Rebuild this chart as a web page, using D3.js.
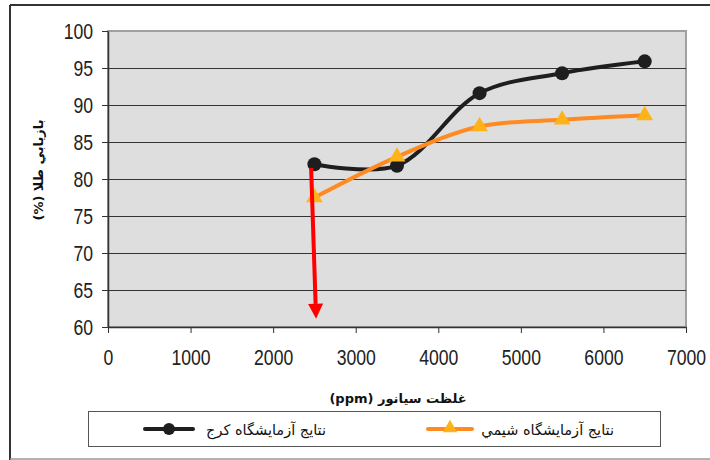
<!DOCTYPE html>
<html>
<head>
<meta charset="utf-8">
<script src="https://cdn.jsdelivr.net/npm/d3@7"></script>
<style>
  html, body { margin: 0; padding: 0; background: #fff; }
  svg { display: block; }
</style>
</head>
<body>
<svg id="chart" width="710" height="460"></svg>
<script>
// Cyanide concentration (ppm) at which gold recovery was measured
const concentrations = [2500, 3500, 4500, 5500, 6500];
// Gold recovery (%) – Karaj laboratory results
const karajRecovery = [82.0, 81.8, 91.6, 94.3, 95.9];
// Gold recovery (%) – Chemistry laboratory results
const chemRecovery = [77.5, 83.0, 87.1, 88.0, 88.6];
// Series names shown in the legend
const seriesNames = ["نتایج آزمایشگاه کرج", "نتایج آزمایشگاه شیمي"];
// Axis ticks
const xTicks = [0, 1000, 2000, 3000, 4000, 5000, 6000, 7000];
const yTicks = [60, 65, 70, 75, 80, 85, 90, 95, 100];
// Highlight arrow from the start of the curves down to the axis: [x, y] in data units
const arrowStart = [2460, 81.5];
const arrowEnd = [2520, 61.1];

const svg = d3.select("#chart");
const plot = { left: 108, right: 686, top: 31, bottom: 327 };
const numFont = "'Liberation Sans', Arial, sans-serif";
const faFont = "'DejaVu Sans', 'Noto Sans', sans-serif";
const narrow = 0.8; // horizontal squeeze for the narrow numeric labels

const x = d3.scaleLinear().domain([0, 7000]).range([plot.left, plot.right]);
const y = d3.scaleLinear().domain([60, 100]).range([plot.bottom, plot.top]);

// Outer chart frame
svg.append("line").attr("x1", 10).attr("x2", 710).attr("y1", 5).attr("y2", 5)
  .attr("stroke", "#333").attr("stroke-width", 2);
svg.append("line").attr("x1", 10).attr("x2", 10).attr("y1", 5).attr("y2", 460)
  .attr("stroke", "#333").attr("stroke-width", 2);
svg.append("line").attr("x1", 10).attr("x2", 710).attr("y1", 459).attr("y2", 459)
  .attr("stroke", "#999").attr("stroke-width", 1.5);

// Plot area background and border
svg.append("rect")
  .attr("x", plot.left).attr("y", plot.top)
  .attr("width", plot.right - plot.left).attr("height", plot.bottom - plot.top)
  .attr("fill", "#dedede").attr("stroke", "#a0a0a0").attr("stroke-width", 2);

// Horizontal gridlines
svg.append("g").selectAll("line")
  .data(yTicks.filter(d => d > 60 && d < 100))
  .join("line")
  .attr("x1", plot.left).attr("x2", plot.right)
  .attr("y1", d => Math.round(y(d)) + 0.5).attr("y2", d => Math.round(y(d)) + 0.5)
  .attr("stroke", "#333").attr("stroke-width", 1);

// Y axis
const yAxis = svg.append("g")
  .attr("transform", `translate(${plot.left},0)`)
  .call(d3.axisLeft(y).tickValues(yTicks).tickSize(6).tickPadding(9).tickSizeOuter(0));
yAxis.select(".domain").attr("stroke", "#333").attr("stroke-width", 1.5);
yAxis.selectAll(".tick line").attr("stroke", "#333");
yAxis.selectAll(".tick text")
  .attr("font-family", numFont).attr("font-size", 22).attr("fill", "#222")
  .attr("x", -15 / narrow)
  .attr("transform", `scale(${narrow},1)`);

// X axis
const xAxis = svg.append("g")
  .attr("transform", `translate(0,${plot.bottom})`)
  .call(d3.axisBottom(x).tickValues(xTicks).tickFormat(d3.format("d")).tickSize(6).tickPadding(16).tickSizeOuter(0));
xAxis.select(".domain").attr("stroke", "#333").attr("stroke-width", 1.5);
xAxis.selectAll(".tick line").attr("stroke", "#333");
xAxis.selectAll(".tick text")
  .attr("font-family", numFont).attr("font-size", 22).attr("fill", "#222")
  .attr("transform", `scale(${narrow},1)`);

// Axis titles
svg.append("text")
  .attr("x", 398).attr("y", 403)
  .attr("text-anchor", "middle").attr("direction", "rtl")
  .attr("font-family", faFont).attr("font-weight", "bold").attr("font-size", 13).attr("fill", "#111")
  .text("غلظت سیانور (ppm)");
svg.append("text")
  .attr("transform", "translate(43,170) rotate(-90)")
  .attr("text-anchor", "middle").attr("direction", "rtl")
  .attr("font-family", faFont).attr("font-weight", "bold").attr("font-size", 13).attr("fill", "#111")
  .text("بازيابي طلا (%)");

// Series lines
const line = d3.line().curve(d3.curveCatmullRom.alpha(0.5))
  .x(d => x(d[0])).y(d => y(d[1]));
const karaj = concentrations.map((c, i) => [c, karajRecovery[i]]);
const chem = concentrations.map((c, i) => [c, chemRecovery[i]]);

svg.append("path").datum(karaj).attr("d", line)
  .attr("fill", "none").attr("stroke", "#1e1e1e").attr("stroke-width", 4).attr("stroke-linejoin", "round");
svg.append("g").selectAll("circle").data(karaj).join("circle")
  .attr("cx", d => x(d[0])).attr("cy", d => y(d[1])).attr("r", 7).attr("fill", "#1e1e1e");

svg.append("path").datum(chem).attr("d", line)
  .attr("fill", "none").attr("stroke", "#ff8a22").attr("stroke-width", 4).attr("stroke-linejoin", "round");
const tri = d3.symbol().type(d3.symbolTriangle).size(120);
svg.append("g").selectAll("path").data(chem).join("path")
  .attr("d", tri)
  .attr("transform", d => `translate(${x(d[0])},${y(d[1])})`)
  .attr("fill", "#ffb319");

// Red arrow
const ax0 = x(arrowStart[0]), ay0 = y(arrowStart[1]);
const ax1 = x(arrowEnd[0]), ay1 = y(arrowEnd[1]);
const ang = Math.atan2(ay1 - ay0, ax1 - ax0);
const headLen = 15, headHalf = 7.5;
const bx = ax1 - headLen * Math.cos(ang), by = ay1 - headLen * Math.sin(ang);
svg.append("line")
  .attr("x1", ax0).attr("y1", ay0).attr("x2", bx).attr("y2", by)
  .attr("stroke", "#ff0000").attr("stroke-width", 4);
svg.append("path")
  .attr("d", `M${ax1},${ay1} L${bx - headHalf * Math.sin(ang)},${by + headHalf * Math.cos(ang)} L${bx + headHalf * Math.sin(ang)},${by - headHalf * Math.cos(ang)} Z`)
  .attr("fill", "#ff0000");

// Legend
svg.append("rect").attr("x", 88.5).attr("y", 411.5).attr("width", 572).attr("height", 35)
  .attr("fill", "#fff").attr("stroke", "#555").attr("stroke-width", 1);

const legendItems = [
  { name: seriesNames[0], x0: 145, x1: 193, color: "#1e1e1e", marker: "circle", textX: 326 },
  { name: seriesNames[1], x0: 428, x1: 472, color: "#ff8a22", marker: "triangle", textX: 614 }
];
const ly = 429;
legendItems.forEach(it => {
  svg.append("line").attr("x1", it.x0).attr("x2", it.x1).attr("y1", ly).attr("y2", ly)
    .attr("stroke", it.color).attr("stroke-width", 4).attr("stroke-linecap", "round");
  const cx = (it.x0 + it.x1) / 2;
  if (it.marker === "circle") {
    svg.append("circle").attr("cx", cx).attr("cy", ly).attr("r", 6).attr("fill", it.color);
  } else {
    svg.append("path").attr("d", d3.symbol().type(d3.symbolTriangle).size(90))
      .attr("transform", `translate(${cx},${ly - 1})`).attr("fill", "#ffb319");
  }
  svg.append("text").attr("x", it.textX).attr("y", ly + 6)
    .attr("text-anchor", "end")
    .attr("font-family", faFont).attr("font-size", 14.5).attr("fill", "#111")
    .text(it.name);
});
</script>
</body>
</html>
